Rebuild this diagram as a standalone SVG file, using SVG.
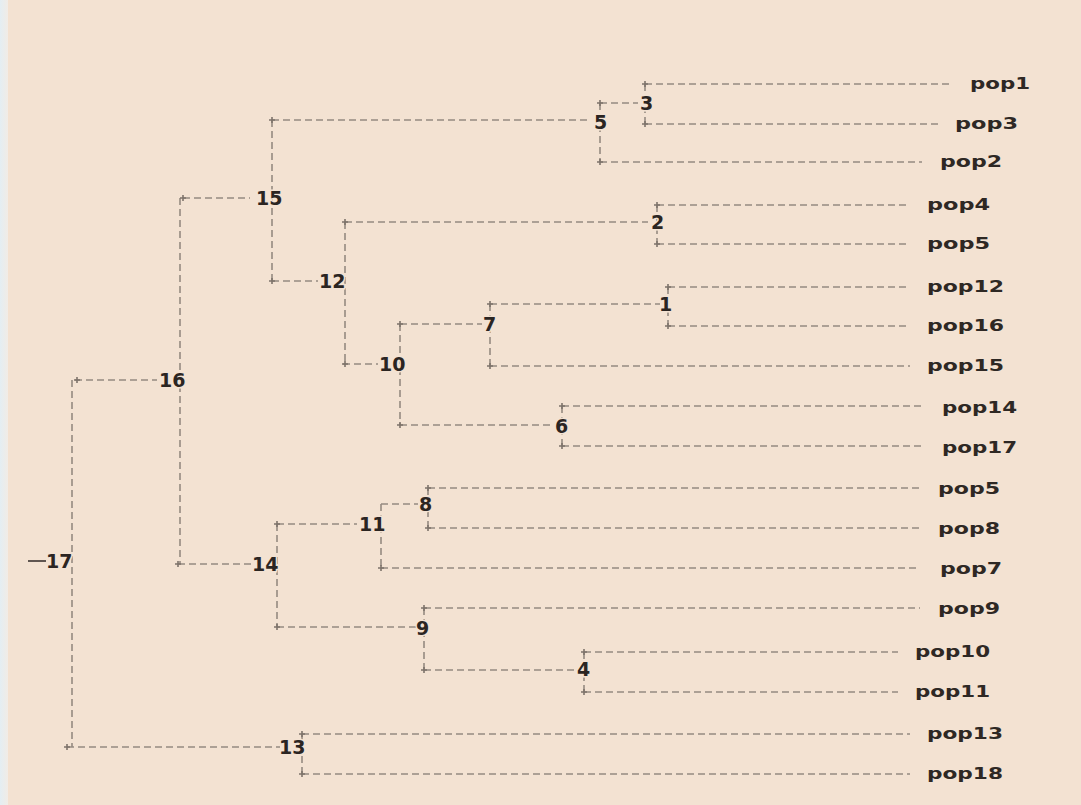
<svg xmlns="http://www.w3.org/2000/svg" width="1081" height="805" viewBox="0 0 1081 805">
<defs>
<linearGradient id="edge" x1="0" y1="0" x2="1" y2="0">
<stop offset="0" stop-color="#e4eef3"/><stop offset="1" stop-color="#f1ece6"/>
</linearGradient>
<g id="pt"><path d="M-3 0H3M0 -3V3" stroke="#7d736b" stroke-width="1.6"/></g>
</defs>
<style>
.c{fill:none;stroke:#958a81;stroke-width:1.6;stroke-dasharray:7 4}
.n{font-family:"DejaVu Sans",sans-serif;font-weight:bold;font-size:19px;fill:#2b2522;stroke:#f3e2d2;stroke-width:3;paint-order:stroke}
.l{font-family:"DejaVu Sans",sans-serif;font-weight:bold;font-size:16px;fill:#2e2824}
</style>
<rect width="1081" height="805" fill="#f3e2d2"/>
<rect width="8" height="805" fill="url(#edge)"/>
<g id="connectors">
<path class="c" d="M645 84H950M645 124H940M600 103H638M645 84V124M600 162H922M600 103V162M272 120H590"/>
<path class="c" d="M183 198H250M272 120V281"/>
<path class="c" d="M345 222H648M657 205V244M657 205H910M657 244H910M272 281H318M345 222V364"/>
<path class="c" d="M490 304H660M668 287V326M668 287H910M668 326H910M400 324H482M490 304V366M490 366H910"/>
<path class="c" d="M343 364H378M400 324V425M400 425H553M562 406V446M562 406H922M562 446H922"/>
<path class="c" d="M75 380H157M180 198V564M178 564H252M277 524V627"/>
<path class="c" d="M277 524H357M381 504V568M381 504H418M428 488V528M428 488H920M428 528H920M381 568H920"/>
<path class="c" d="M277 627H416M424 608V670M424 608H920M424 670H575M584 652V692M584 652H898M584 692H898"/>
<path class="c" d="M67 747H280M302 734V774M302 734H910M302 774H910M72 380V747"/>
<path d="M28 561H46" stroke="#3a3330" stroke-width="1.6"/>
<use href="#pt" x="645" y="84"/><use href="#pt" x="645" y="124"/><use href="#pt" x="600" y="103"/><use href="#pt" x="600" y="162"/>
<use href="#pt" x="272" y="120"/><use href="#pt" x="272" y="281"/><use href="#pt" x="183" y="198"/>
<use href="#pt" x="657" y="205"/><use href="#pt" x="657" y="244"/><use href="#pt" x="345" y="222"/><use href="#pt" x="345" y="364"/>
<use href="#pt" x="668" y="287"/><use href="#pt" x="668" y="326"/><use href="#pt" x="490" y="304"/><use href="#pt" x="490" y="366"/>
<use href="#pt" x="400" y="324"/><use href="#pt" x="400" y="425"/><use href="#pt" x="562" y="406"/><use href="#pt" x="562" y="446"/>
<use href="#pt" x="77" y="380"/><use href="#pt" x="178" y="564"/><use href="#pt" x="277" y="524"/><use href="#pt" x="277" y="627"/>
<use href="#pt" x="381" y="568"/><use href="#pt" x="428" y="488"/><use href="#pt" x="428" y="528"/>
<use href="#pt" x="424" y="608"/><use href="#pt" x="424" y="670"/><use href="#pt" x="584" y="652"/><use href="#pt" x="584" y="692"/>
<use href="#pt" x="67" y="747"/><use href="#pt" x="302" y="734"/><use href="#pt" x="302" y="774"/>
</g>
<g id="n3"><text class="n" x="640" y="110">3</text></g>
<g id="n5"><text class="n" x="594" y="129">5</text></g>
<g id="n15"><text class="n" x="256" y="205">15</text></g>
<g id="n2"><text class="n" x="651" y="229">2</text></g>
<g id="n12"><text class="n" x="319" y="288">12</text></g>
<g id="n1"><text class="n" x="659" y="311">1</text></g>
<g id="n7"><text class="n" x="483" y="331">7</text></g>
<g id="n10"><text class="n" x="379" y="371">10</text></g>
<g id="n6"><text class="n" x="555" y="433">6</text></g>
<g id="n16"><text class="n" x="159" y="387">16</text></g>
<g id="n8"><text class="n" x="419" y="511">8</text></g>
<g id="n11"><text class="n" x="359" y="531">11</text></g>
<g id="n14"><text class="n" x="252" y="571">14</text></g>
<g id="n9"><text class="n" x="416" y="635">9</text></g>
<g id="n4"><text class="n" x="577" y="676">4</text></g>
<g id="n13"><text class="n" x="279" y="754">13</text></g>
<g id="n17"><text class="n" x="46" y="568">17</text></g>
<g id="pop1"><text class="l" x="970" y="89" textLength="60" lengthAdjust="spacingAndGlyphs">pop1</text></g>
<g id="pop3"><text class="l" x="955" y="129" textLength="63" lengthAdjust="spacingAndGlyphs">pop3</text></g>
<g id="pop2"><text class="l" x="940" y="167" textLength="62" lengthAdjust="spacingAndGlyphs">pop2</text></g>
<g id="pop4"><text class="l" x="927" y="210" textLength="63" lengthAdjust="spacingAndGlyphs">pop4</text></g>
<g id="pop5a"><text class="l" x="927" y="249" textLength="63" lengthAdjust="spacingAndGlyphs">pop5</text></g>
<g id="pop12"><text class="l" x="927" y="292" textLength="77" lengthAdjust="spacingAndGlyphs">pop12</text></g>
<g id="pop16"><text class="l" x="927" y="331" textLength="77" lengthAdjust="spacingAndGlyphs">pop16</text></g>
<g id="pop15"><text class="l" x="927" y="371" textLength="77" lengthAdjust="spacingAndGlyphs">pop15</text></g>
<g id="pop14"><text class="l" x="942" y="413" textLength="75" lengthAdjust="spacingAndGlyphs">pop14</text></g>
<g id="pop17"><text class="l" x="942" y="453" textLength="75" lengthAdjust="spacingAndGlyphs">pop17</text></g>
<g id="pop5b"><text class="l" x="938" y="494" textLength="62" lengthAdjust="spacingAndGlyphs">pop5</text></g>
<g id="pop8"><text class="l" x="938" y="534" textLength="62" lengthAdjust="spacingAndGlyphs">pop8</text></g>
<g id="pop7"><text class="l" x="940" y="574" textLength="62" lengthAdjust="spacingAndGlyphs">pop7</text></g>
<g id="pop9"><text class="l" x="938" y="614" textLength="62" lengthAdjust="spacingAndGlyphs">pop9</text></g>
<g id="pop10"><text class="l" x="915" y="657" textLength="75" lengthAdjust="spacingAndGlyphs">pop10</text></g>
<g id="pop11"><text class="l" x="915" y="697" textLength="75" lengthAdjust="spacingAndGlyphs">pop11</text></g>
<g id="pop13"><text class="l" x="927" y="739" textLength="76" lengthAdjust="spacingAndGlyphs">pop13</text></g>
<g id="pop18"><text class="l" x="927" y="779" textLength="76" lengthAdjust="spacingAndGlyphs">pop18</text></g>
</svg>
